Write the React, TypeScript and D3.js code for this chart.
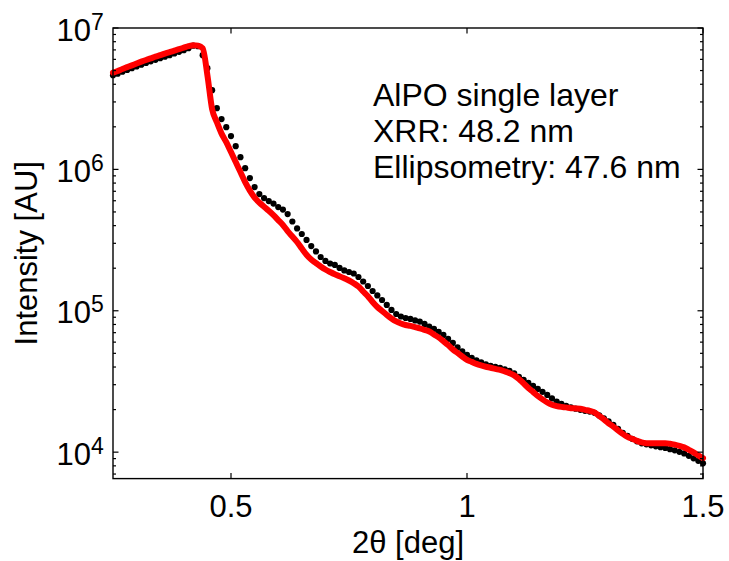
import React from "react";
import * as d3 from "d3";

// ---- data ----
const angleStart = 0.25;
const angleStep = 0.01;

// measured XRR intensities (black dots), 2θ = 0.25 … 1.50 step 0.01
const measured: number[] = [
  4.64e6, 4.75e6, 4.91e6, 5.05e6, 5.2e6, 5.35e6, 5.5e6, 5.66e6, 5.81e6, 5.96e6,
  6.12e6, 6.27e6, 6.42e6, 6.6e6, 6.78e6, 6.97e6, 7.2e6, 7.5e6, 7.44e6, 6.42e6,
  5.2e6, 3.63e6, 2.71e6, 2.27e6, 1.99e6, 1.72e6, 1.46e6, 1.22e6, 1.02e6, 8.68e5,
  7.5e5, 6.69e5, 6.27e5, 5.97e5, 5.73e5, 5.41e5, 5.2e5, 4.83e5, 4.28e5, 3.82e5,
  3.49e5, 3.17e5, 2.87e5, 2.63e5, 2.4e5, 2.25e5, 2.16e5, 2.11e5, 2.01e5, 1.93e5,
  1.88e5, 1.835e5, 1.733e5, 1.611e5, 1.497e5, 1.38e5, 1.283e5, 1.192e5, 1.099e5, 1.013e5,
  9.49e4, 9.11e4, 8.89e4, 8.75e4, 8.54e4, 8.38e4, 8.07e4, 7.74e4, 7.44e4, 7.08e4,
  6.75e4, 6.32e4, 5.92e4, 5.5e4, 5.16e4, 4.87e4, 4.64e4, 4.46e4, 4.31e4, 4.17e4,
  4.07e4, 4.01e4, 3.94e4, 3.85e4, 3.755e4, 3.605e4, 3.405e4, 3.24e4, 3.09e4, 2.94e4,
  2.8e4, 2.67e4, 2.54e4, 2.4e4, 2.28e4, 2.195e4, 2.125e4, 2.073e4, 2.03e4, 1.991e4,
  1.959e4, 1.936e4, 1.896e4, 1.82e4, 1.734e4, 1.651e4, 1.56e4, 1.461e4, 1.369e4, 1.304e4,
  1.242e4, 1.192e4, 1.154e4, 1.135e4, 1.117e4, 1.099e4, 1.085e4, 1.072e4, 1.05e4, 1.03e4,
  1.005e4, 9.8e3, 9.42e3, 9.04e3, 8.68e3, 8.33e3,
];

// fitted model (red line), same 2θ grid
const fitted: number[] = [
  4.832e6, 4.968e6, 5.132e6, 5.284e6, 5.442e6, 5.612e6, 5.779e6, 5.942e6, 6.098e6, 6.269e6,
  6.424e6, 6.594e6, 6.756e6, 6.923e6, 7.083e6, 7.258e6, 7.436e6, 7.559e6, 7.497e6, 7.198e6,
  4.638e6, 2.668e6, 2.16e6, 1.791e6, 1.559e6, 1.326e6, 1.126e6, 9.57e5, 8.13e5, 7.08e5,
  6.32e5, 5.83e5, 5.44e5, 5.1e5, 4.75e5, 4.38e5, 4.04e5, 3.66e5, 3.35e5, 3.065e5,
  2.756e5, 2.492e5, 2.304e5, 2.176e5, 2.056e5, 1.958e5, 1.88e5, 1.811e5, 1.756e5, 1.697e5,
  1.637e5, 1.567e5, 1.485e5, 1.369e5, 1.266e5, 1.154e5, 1.064e5, 9.97e4, 9.34e4, 8.82e4,
  8.4e4, 8.13e4, 7.93e4, 7.81e4, 7.66e4, 7.52e4, 7.32e4, 7.14e4, 6.8e4, 6.48e4,
  6.1e4, 5.73e4, 5.33e4, 5.03e4, 4.75e4, 4.49e4, 4.35e4, 4.21e4, 4.105e4, 4.02e4,
  3.955e4, 3.879e4, 3.816e4, 3.724e4, 3.622e4, 3.49e4, 3.296e4, 3.064e4, 2.847e4, 2.67e4,
  2.5e4, 2.361e4, 2.248e4, 2.166e4, 2.118e4, 2.09e4, 2.073e4, 2.046e4, 2.039e4, 2.03e4,
  1.991e4, 1.959e4, 1.911e4, 1.805e4, 1.705e4, 1.598e4, 1.517e4, 1.426e4, 1.347e4, 1.283e4,
  1.242e4, 1.202e4, 1.173e4, 1.158e4, 1.154e4, 1.154e4, 1.158e4, 1.158e4, 1.148e4, 1.13e4,
  1.108e4, 1.081e4, 1.038e4, 9.97e3, 9.49e3, 9.07e3,
];

const xTicks: number[] = [0.5, 1, 1.5];
const xTickLabels: string[] = ["0.5", "1", "1.5"];
const yMajorExponents: number[] = [4, 5, 6, 7];
const xDomain: [number, number] = [0.25, 1.5];
const yDomain: [number, number] = [6500, 1e7];
const annotation: string[] = [
  "AlPO single layer",
  "XRR: 48.2 nm",
  "Ellipsometry: 47.6 nm",
];
const xLabel = "2θ [deg]";
const yLabel = "Intensity [AU]";

// ---- layout ----
const W = 729;
const H = 561;
const M = { left: 113, right: 703, top: 28, bottom: 478.6 };
const FONT = "'Liberation Sans', Arial, Helvetica, sans-serif";

export default function App() {
  const x = d3.scaleLinear().domain(xDomain).range([M.left, M.right]);
  const y = d3.scaleLog().domain(yDomain).range([M.bottom, M.top]);

  const angles = measured.map((_, i) => +(angleStart + i * angleStep).toFixed(3));
  const fitPts: [number, number][] = fitted.map((v, i) => [angles[i], v]);

  const line = d3
    .line<[number, number]>()
    .x((d) => x(d[0]))
    .y((d) => y(d[1]))
    .curve(d3.curveMonotoneX);

  // minor ticks
  const minor: number[] = [];
  for (let e = 3; e <= 7; e++) {
    for (let m = 2; m <= 9; m++) {
      const v = m * Math.pow(10, e);
      if (v >= yDomain[0] && v <= yDomain[1]) minor.push(v);
    }
  }
  const major = yMajorExponents.map((e) => Math.pow(10, e));
  const majLen = 5.5;
  const minLen = 3;

  return (
    <div style={{ position: "fixed", left: 0, top: 0, width: W, height: H, background: "#fff" }}>
      <svg width={W} height={H} style={{ display: "block" }} fontFamily={FONT}>
        <rect x={0} y={0} width={W} height={H} fill="#fff" />
        <defs>
          <clipPath id="plotclip">
            <rect x={M.left - 4} y={M.top - 4} width={M.right - M.left + 8} height={M.bottom - M.top + 8} />
          </clipPath>
        </defs>

        {/* data */}
        <g clipPath="url(#plotclip)">
          {measured.map((v, i) => (
            <circle key={i} cx={x(angles[i])} cy={y(v)} r={3.1} fill="#000" />
          ))}
          <path d={line(fitPts) || ""} fill="none" stroke="#ff0000" strokeWidth={6} strokeLinejoin="round" strokeLinecap="round" />
        </g>

        {/* axes box */}
        <rect x={M.left} y={M.top} width={M.right - M.left} height={M.bottom - M.top} fill="none" stroke="#000" strokeWidth={1.4} />

        {/* x ticks */}
        {xTicks.map((t, i) => (
          <g key={"xt" + i}>
            <line x1={x(t)} x2={x(t)} y1={M.bottom} y2={M.bottom - majLen} stroke="#000" strokeWidth={1.2} />
            <line x1={x(t)} x2={x(t)} y1={M.top} y2={M.top + majLen} stroke="#000" strokeWidth={1.2} />
            <text x={x(t)} y={517} fontSize={31} textAnchor="middle" fill="#000">
              {xTickLabels[i]}
            </text>
          </g>
        ))}

        {/* y ticks */}
        {minor.map((v, i) => (
          <g key={"ym" + i}>
            <line x1={M.left} x2={M.left + minLen} y1={y(v)} y2={y(v)} stroke="#000" strokeWidth={1.2} />
            <line x1={M.right} x2={M.right - minLen} y1={y(v)} y2={y(v)} stroke="#000" strokeWidth={1.2} />
          </g>
        ))}
        {major.map((v, i) => (
          <g key={"yM" + i}>
            <line x1={M.left} x2={M.left + majLen} y1={y(v)} y2={y(v)} stroke="#000" strokeWidth={1.2} />
            <line x1={M.right} x2={M.right - majLen} y1={y(v)} y2={y(v)} stroke="#000" strokeWidth={1.2} />
            <text x={91} y={y(v) + 12.5} fontSize={31} textAnchor="end" fill="#000">
              10
            </text>
            <text x={91} y={y(v) + 1.5} fontSize={23} textAnchor="start" fill="#000">
              {String(yMajorExponents[i])}
            </text>
          </g>
        ))}

        {/* axis labels */}
        <text x={(M.left + M.right) / 2} y={553} fontSize={31} textAnchor="middle" fill="#000">
          {xLabel}
        </text>
        <text
          transform={`translate(37, ${(M.top + M.bottom) / 2}) rotate(-90)`}
          fontSize={31}
          textAnchor="middle"
          fill="#000"
        >
          {yLabel}
        </text>

        {/* annotation */}
        {annotation.map((s, i) => (
          <text key={"a" + i} x={373} y={105.7 + i * 36.3} fontSize={32} fill="#000">
            {s}
          </text>
        ))}
      </svg>
    </div>
  );
}
